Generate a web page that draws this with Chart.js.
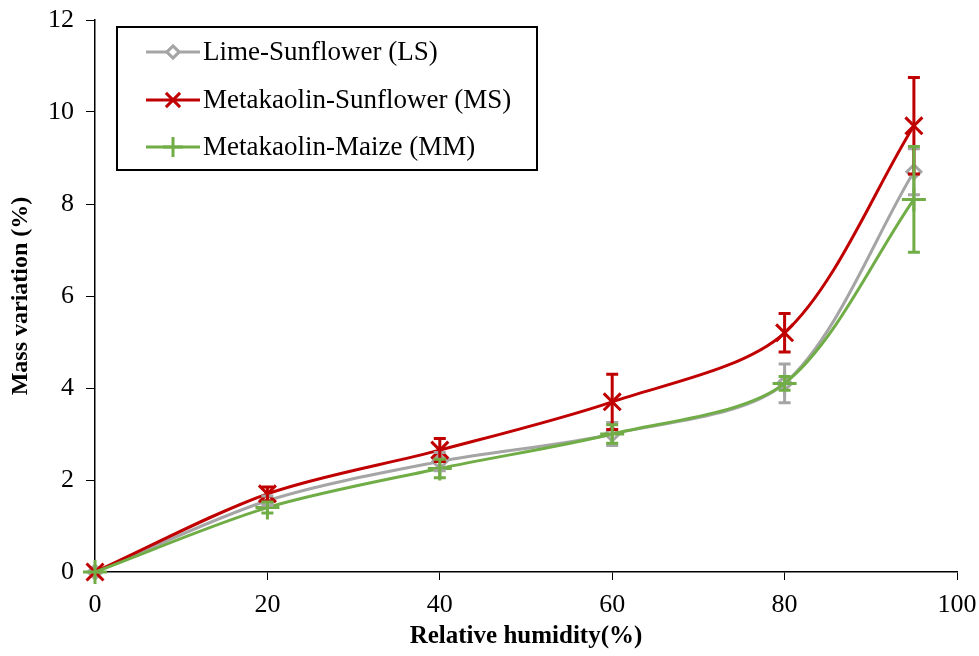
<!DOCTYPE html>
<html>
<head>
<meta charset="utf-8">
<script src="https://cdn.jsdelivr.net/npm/chart.js@4"></script>
<style>
  html, body { margin: 0; padding: 0; background: #fff; }
  #wrap { width: 979px; height: 656px; }
</style>
</head>
<body>
<div id="wrap"><canvas id="massChart" width="979" height="656"></canvas></div>
<script>
// relative humidity (%)
const humidity = [0, 20, 40, 60, 80, 95];

// mass variation (%) and error (+/-)
const lsMass = [0, 1.55, 2.4, 3.0, 4.1, 8.7];
const lsErr = [0, 0.1, 0.2, 0.25, 0.42, 0.5];
const msMass = [0, 1.7, 2.65, 3.7, 5.2, 9.7];
const msErr = [0, 0.15, 0.25, 0.6, 0.42, 1.05];
const mmMass = [0, 1.4, 2.25, 3.0, 4.1, 8.1];
const mmErr = [0, 0.12, 0.2, 0.2, 0.15, 1.15];

const seriesNames = ['Lime-Sunflower (LS)', 'Metakaolin-Sunflower (MS)', 'Metakaolin-Maize (MM)'];
const seriesColors = ['#A5A5A5', '#C00000', '#70AD47'];
const seriesMarkers = ['rectRot', 'crossRot', 'cross'];

const xTicks = [0, 20, 40, 60, 80, 100];
const yTicks = [0, 2, 4, 6, 8, 10, 12];

const serif = '"Liberation Serif", "Times New Roman", serif';

function toPoints(vals) {
    return humidity.map((h, i) => ({ x: h, y: vals[i] }));
}

// error bars drawn with the chart scales
const errorBars = {
    id: 'errorBars',
    afterDatasetsDraw(chart) {
        const ctx = chart.ctx;
        const xs = chart.scales.x, ys = chart.scales.y;
        const errs = [lsErr, msErr, mmErr];
        const valsAll = [lsMass, msMass, mmMass];
        ctx.save();
        errs.forEach((err, d) => {
            ctx.strokeStyle = seriesColors[d];
            ctx.lineWidth = 3;
            err.forEach((e, i) => {
                if (!e) return;
                const px = xs.getPixelForValue(humidity[i]);
                const top = ys.getPixelForValue(valsAll[d][i] + e);
                const bot = ys.getPixelForValue(valsAll[d][i] - e);
                ctx.beginPath();
                ctx.moveTo(px, top); ctx.lineTo(px, bot);
                ctx.moveTo(px - 6, top); ctx.lineTo(px + 6, top);
                ctx.moveTo(px - 6, bot); ctx.lineTo(px + 6, bot);
                ctx.stroke();
            });
        });
        ctx.restore();
    }
};

// boxed legend in the upper left
const boxLegend = {
    id: 'boxLegend',
    afterDraw(chart) {
        const ctx = chart.ctx;
        ctx.save();
        ctx.fillStyle = '#fff';
        ctx.fillRect(117, 27, 420, 143);
        ctx.strokeStyle = '#000';
        ctx.lineWidth = 2;
        ctx.strokeRect(117, 27, 420, 143);
        ctx.font = '27px ' + serif;
        ctx.textBaseline = 'middle';
        const rows = [52, 100, 147];
        seriesNames.forEach((name, i) => {
            const y = rows[i];
            ctx.strokeStyle = seriesColors[i];
            ctx.lineWidth = 3;
            ctx.beginPath();
            ctx.moveTo(146, y); ctx.lineTo(200, y);
            ctx.stroke();
            Chart.helpers.drawPoint(ctx, {
                pointStyle: seriesMarkers[i],
                radius: i === 0 ? 6 : 10,
                rotation: 0,
                borderWidth: 3
            }, 173, y);
            if (i === 0) {
                ctx.fillStyle = '#fff';
                ctx.fill();
                ctx.stroke();
            }
            ctx.fillStyle = '#000';
            ctx.fillText(name, 203, y + 1);
        });
        ctx.restore();
    }
};

new Chart(document.getElementById('massChart'), {
    type: 'line',
    data: {
        datasets: [
            { label: seriesNames[0], data: toPoints(lsMass), order: 3 },
            { label: seriesNames[1], data: toPoints(msMass), order: 2 },
            { label: seriesNames[2], data: toPoints(mmMass), order: 1 }
        ].map((ds, i) => Object.assign(ds, {
            borderColor: seriesColors[i],
            backgroundColor: i === 0 ? '#fff' : seriesColors[i],
            pointStyle: seriesMarkers[i],
            pointRadius: i === 0 ? 7 : 12,
            pointBorderWidth: 3,
            borderWidth: 3,
            tension: 0.3,
            clip: false,
            fill: false
        }))
    },
    options: {
        responsive: false,
        animation: false,
        layout: { padding: { top: 20, right: 22, left: 0, bottom: 0 } },
        plugins: {
            legend: { display: false },
            tooltip: { enabled: false }
        },
        scales: {
            x: {
                type: 'linear',
                min: 0,
                max: 100,
                afterBuildTicks: s => { s.ticks = xTicks.map(v => ({ value: v })); },
                afterFit: s => { s.height = 84; s.paddingLeft = 0; s.paddingRight = 0; },
                border: { color: '#000', width: 1.5 },
                grid: { drawOnChartArea: false, tickLength: 8, color: '#000' },
                ticks: { color: '#000', font: { family: serif, size: 26 }, padding: 10 },
                title: {
                    display: true,
                    text: 'Relative humidity(%)',
                    color: '#000',
                    font: { family: serif, size: 25, weight: 'bold' },
                    padding: { top: 7 }
                }
            },
            y: {
                min: 0,
                max: 12,
                afterBuildTicks: s => { s.ticks = yTicks.map(v => ({ value: v })); },
                afterFit: s => { s.width = 95; s.paddingTop = 0; s.paddingBottom = 0; },
                border: { color: '#000', width: 1.5 },
                grid: { drawOnChartArea: false, tickLength: 9, color: '#000' },
                ticks: { color: '#000', font: { family: serif, size: 26 }, padding: 12 },
                title: {
                    display: true,
                    text: 'Mass variation (%)',
                    color: '#000',
                    font: { family: serif, size: 24, weight: 'bold' },
                    padding: { top: 6, bottom: 2 }
                }
            }
        }
    },
    plugins: [errorBars, boxLegend]
});
</script>
</body>
</html>
